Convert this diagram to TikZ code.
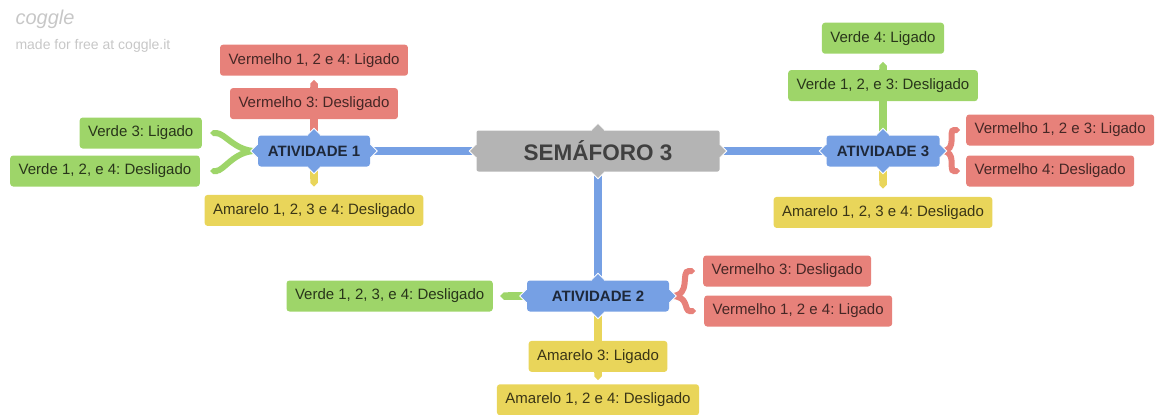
\documentclass[tikz,border=0pt]{standalone}
\usepackage{fontspec}
\setmainfont{Liberation Sans}
\usetikzlibrary{arrows.meta,positioning,backgrounds}
\definecolor{cogred}{RGB}{231,129,122}
\definecolor{coggreen}{RGB}{158,213,105}
\definecolor{cogyellow}{RGB}{233,213,90}
\definecolor{cogblue}{RGB}{118,160,228}
\definecolor{coggray}{RGB}{180,180,180}

\begin{document}
\frenchspacing
\begin{tikzpicture}[
  x=1pt, y=-1pt,
  node distance=12pt,
  leaf/.style={rounded corners=3pt, minimum height=31pt, inner xsep=8.5pt, font=\fontsize{15}{18}\selectfont},
  redleaf/.style={leaf, fill=cogred, text=cogred!30!black},
  greenleaf/.style={leaf, fill=coggreen, text=coggreen!25!black},
  yellowleaf/.style={leaf, fill=cogyellow, text=cogyellow!25!black},
  act/.style={rounded corners=3pt, minimum height=31pt, minimum width=112pt, fill=cogblue, text=cogblue!25!black, font=\bfseries\fontsize{15}{18}\selectfont},
  root/.style={rounded corners=2pt, minimum height=41pt, minimum width=243pt, fill=coggray, text=black!75, font=\bfseries\fontsize{22.5}{26}\selectfont},
  nub/.style={fill=#1, draw=white, line width=1pt, minimum size=10pt, inner sep=0pt, rotate=45},
  link/.style={draw=#1, line width=7.5pt},
  brace/.style={draw=#1, line width=6pt, -{Triangle Cap}, shorten <=2pt},
  tipped/.style={-{Triangle Cap}}
]
\useasboundingbox (0,0) rectangle (1157,415);

% watermark
\node[anchor=west, text=black!22, font=\itshape\fontsize{20}{22}\selectfont] (logo) at (12,19) {coggle};
\node[anchor=west, text=black!22, font=\fontsize{14}{17}\selectfont] (made) at (12,46) {made for free at coggle.it};

\node[root] (sem) at (598,151) {SEMÁFORO 3};
\node[act] (a1) at (314,151) {ATIVIDADE 1};
\node[act, minimum width=113pt] (a3) at (883,151) {ATIVIDADE 3};
\node[act, minimum width=142pt] (a2) at (598,296) {ATIVIDADE 2};

% atividade 1
\node[redleaf, above=16pt of a1] (r3off) {Vermelho 3: Desligado};
\node[redleaf, above=of r3off] (r124on) {Vermelho 1, 2 e 4: Ligado};
\node[greenleaf, anchor=east] (g3on) at (202,133) {Verde 3: Ligado};
\node[greenleaf, anchor=east] (g124off) at (200,171) {Verde 1, 2, e 4: Desligado};
\node[yellowleaf, below=28pt of a1] (y1234) {Amarelo 1, 2, 3 e 4: Desligado};

% atividade 3
\node[greenleaf, above=34pt of a3] (g123off) {Verde 1, 2, e 3: Desligado};
\node[greenleaf, above=16pt of g123off] (g4on) {Verde 4: Ligado};
\node[redleaf, anchor=west] (r123on) at (966,130) {Vermelho 1, 2 e 3: Ligado};
\node[redleaf, anchor=west] (r4off) at (966,171) {Vermelho 4: Desligado};
\node[yellowleaf, below=30pt of a3] (y1234b) {Amarelo 1, 2, 3 e 4: Desligado};

% atividade 2
\node[greenleaf, anchor=east] (gall) at (493,296) {Verde 1, 2, 3, e 4: Desligado};
\node[redleaf, anchor=west] (r3off2) at (703,271) {Vermelho 3: Desligado};
\node[redleaf, anchor=west] (r124on2) at (704,311) {Vermelho 1, 2 e 4: Ligado};
\node[yellowleaf, below=29pt of a2] (y3on) {Amarelo 3: Ligado};
\node[yellowleaf, below=of y3on] (y124off) {Amarelo 1, 2 e 4: Desligado};

\begin{scope}[on background layer]
\draw[link=cogblue, shorten <=2pt, shorten >=2pt] (sem.west) -- (a1.east);
\draw[link=cogblue, shorten <=2pt, shorten >=2pt] (sem.east) -- (a3.west);
\draw[link=cogblue, shorten <=2pt, shorten >=2pt] (sem.south) -- (a2.north);

\draw[link=cogred, shorten <=2pt] (a1.north) -- (r3off.south);
\draw[link=cogred, tipped, shorten >=4pt] (r3off.north) -- (r124on.south);
\draw[brace=coggreen, shorten >=8pt] (a1.west) to[out=180, in=0] (g3on.east);
\draw[brace=coggreen, shorten >=10pt] (a1.west) to[out=180, in=0] (g124off.east);
\draw[link=cogyellow, tipped, shorten <=2pt, shorten >=8pt] (a1.south) -- (y1234.north);

\draw[link=coggreen, shorten <=2pt] (a3.north) -- (g123off.south);
\draw[link=coggreen, tipped, shorten >=8pt] (g123off.north) -- (g4on.south);
\draw[brace=cogred, shorten >=6pt] (a3.east) to[out=0, in=180, looseness=1.4] (r123on.west);
\draw[brace=cogred, shorten >=6pt] (a3.east) to[out=0, in=180, looseness=1.4] (r4off.west);
\draw[link=cogyellow, tipped, shorten <=2pt, shorten >=8pt] (a3.south) -- (y1234b.north);

\draw[link=coggreen, tipped, shorten <=2pt, shorten >=7pt] (a2.west) -- (gall.east);
\draw[brace=cogred, shorten >=8pt] (a2.east) to[out=0, in=180, looseness=1.4] (r3off2.west);
\draw[brace=cogred, shorten >=8pt] (a2.east) to[out=0, in=180, looseness=1.4] (r124on2.west);
\draw[link=cogyellow, shorten <=2pt] (a2.south) -- (y3on.north);
\draw[link=cogyellow, tipped, shorten >=4pt] (y3on.south) -- (y124off.north);

\foreach \n in {a1,a2,a3}
  \foreach \s in {north,south,east,west}
    \node[nub=cogblue] (\n-\s) at (\n.\s) {};
\foreach \s in {north,south,east,west}
  \node[nub=coggray] (sem-\s) at (sem.\s) {};
\end{scope}
\end{tikzpicture}
\end{document}
